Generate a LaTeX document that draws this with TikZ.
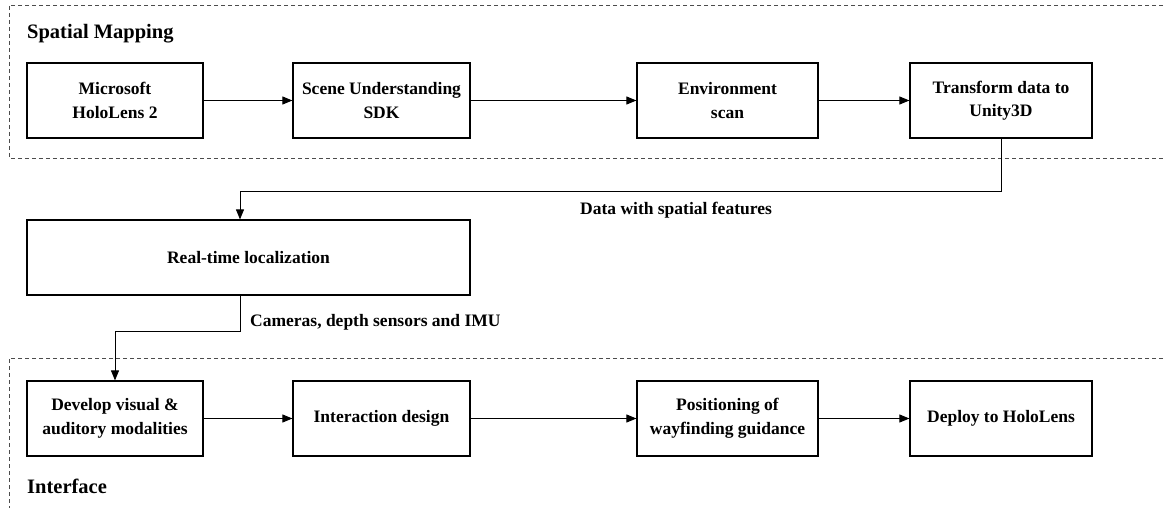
\documentclass[tikz,border=0pt]{standalone}
\usepackage{fontspec}
\setmainfont{Liberation Serif}
\usetikzlibrary{arrows.meta,calc}
\begin{document}
\begin{tikzpicture}[x=1pt,y=-1pt,
  box/.style={draw,line width=1.2pt,minimum width=#1,minimum height=75pt,align=center,inner sep=0pt,
    font=\fontsize{17.5}{23.5}\selectfont\bfseries},
  box/.default=177pt,
  arr/.style={line width=0.9pt,-{Triangle[length=10pt,width=8pt]}},
  frame/.style={line width=0.9pt,dash pattern=on 4pt off 3pt,color=black!70},
  lab/.style={font=\fontsize{17.5}{23.5}\selectfont\bfseries,inner sep=0pt},
  ttl/.style={font=\fontsize{20.5}{24}\selectfont\bfseries,inner sep=0pt}]
\useasboundingbox (0,0) rectangle (1165,508);
\begin{scope}
\clip (0,0) rectangle (1165,508);
\draw[frame] (1170,5) -- (9,5) -- (9,158) -- (1170,158);
\draw[frame] (1170,358) -- (9,358) -- (9,515);
\end{scope}
\node[ttl,anchor=base west] (tm) at (27,39) {Spatial Mapping};
\node[ttl,anchor=base west] (ti) at (27,493) {Interface};
\node[box=176pt] (t1) at (115,100.5) {Microsoft\\HoloLens 2};
\node[box=177pt] (t2) at (381.5,100.5) {Scene Understanding\\SDK};
\node[box=181pt] (t3) at (727.5,100.5) {Environment\\scan};
\node[box=182pt] (t4) at (1001,100.5) {Transform data to\\Unity3D};
\node[box=443pt] (rt) at (248.5,257.5) {Real-time localization};
\node[box=176pt] (b1) at (115,418.5) {Develop visual \&\\auditory modalities};
\node[box=177pt] (b2) at (381.5,418.5) {Interaction design};
\node[box=181pt] (b3) at (727.5,418.5) {Positioning of\\wayfinding guidance};
\node[box=182pt] (b4) at (1001,418.5) {Deploy to HoloLens};
\draw[arr] (t1) -- (t2);
\draw[arr] (t2) -- (t3);
\draw[arr] (t3) -- (t4);
\draw[arr] (b1) -- (b2);
\draw[arr] (b2) -- (b3);
\draw[arr] (b3) -- (b4);
\coordinate (c1) at (240,191);
\coordinate (c2) at (240,331);
\draw[arr] (t4.south) |- (c1) -- (c1 |- rt.north);
\draw[arr] (c2 |- rt.south) -- (c2) -| (b1.north);
\node[lab] (l1) at (676,210) {Data with spatial features};
\node[lab,anchor=west] (l2) at (250,322) {Cameras, depth sensors and IMU};
\end{tikzpicture}
\end{document}
